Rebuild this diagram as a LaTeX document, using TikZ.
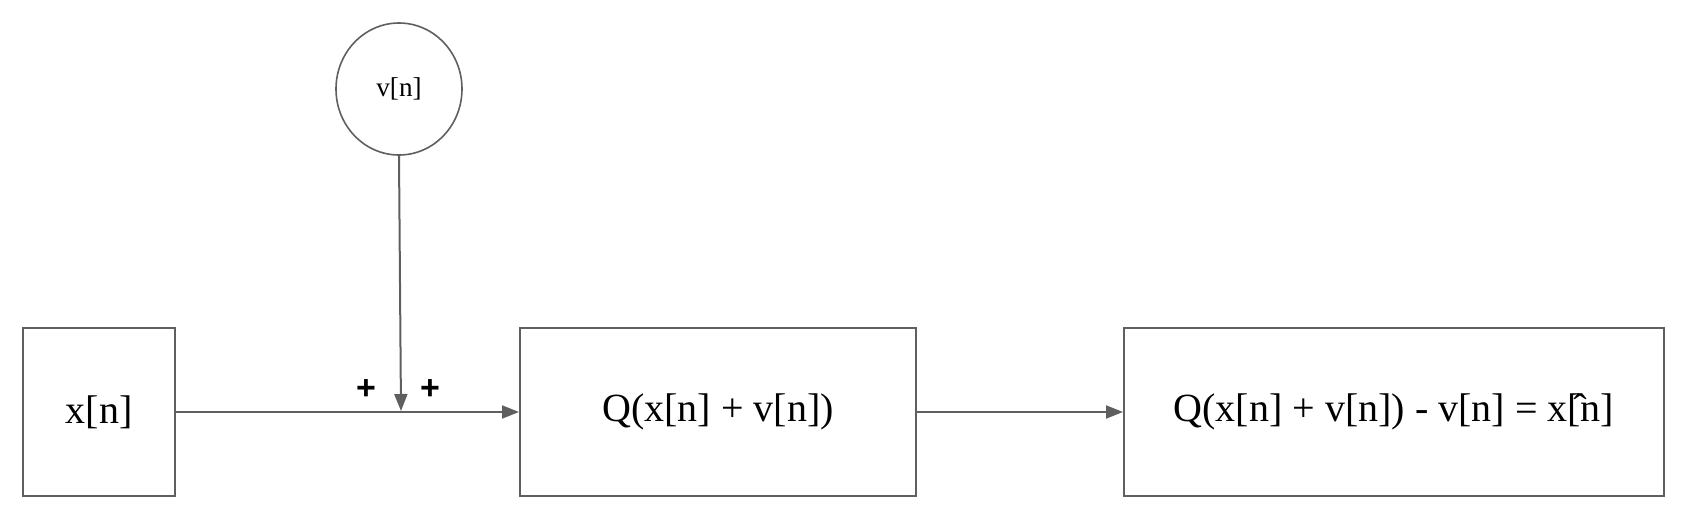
\documentclass[tikz,border=0pt]{standalone}
\usepackage{fontspec}
\setmainfont{Liberation Serif}
\newfontfamily\plusfont{Liberation Sans}
\usetikzlibrary{arrows.meta,shapes.geometric}
\definecolor{linegray}{HTML}{5F5F5F}
\tikzset{
  blockbox/.style={draw=linegray, line width=1pt, rectangle, minimum height=84pt, inner sep=0pt, font=\fontsize{20}{24}\selectfont},
  noisecirc/.style={draw=linegray, line width=0.8pt, ellipse, minimum width=63pt, minimum height=66pt, inner sep=0pt, font=\fontsize{13.6}{16}\selectfont},
  flow/.style={draw=linegray, line width=1pt, -{Triangle[length=8.5pt,width=6.5pt]}},
  signlabel/.style={font=\plusfont\bfseries\fontsize{17}{19}\selectfont}
}
\begin{document}
\begin{tikzpicture}[x=0.5pt,y=-0.5pt]
\useasboundingbox (0,0) rectangle (1694,526);
\node[blockbox, minimum width=76pt] (xn) at (99,412) {x[n]};
\node[noisecirc] (vn) at (399,89) {v[n]};
\node[blockbox, minimum width=198pt] (q) at (718,412) {Q(x[n] + v[n])};
\node[blockbox, minimum width=270pt] (out) at (1394,412) {Q(x[n] + v[n]) - v[n] = x[^^^^0302n]};
\coordinate (sum) at (401,411);
\draw[flow] (xn.east) -- (q.west);
\draw[flow] (vn.south) -- (sum);
\draw[flow] (q.east) -- (out.west);
\node[signlabel] (p1) at (366,390) {+};
\node[signlabel] (p2) at (430,390) {+};
\end{tikzpicture}
\end{document}
